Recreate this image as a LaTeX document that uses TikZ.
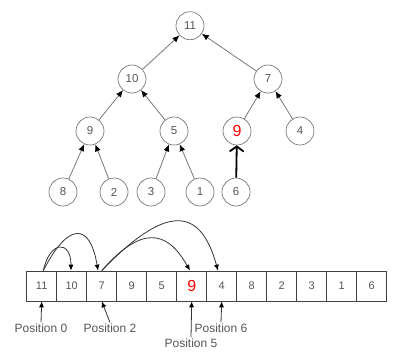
\documentclass[tikz,border=0pt]{standalone}
\usepackage{fontspec}
\setmainfont{Liberation Sans}
\usetikzlibrary{arrows.meta}
\definecolor{txt}{HTML}{555555}
\definecolor{edge}{HTML}{777777}
\begin{document}
\begin{tikzpicture}[x=1pt,y=-1pt,
  tnode/.style={circle,draw=edge,line width=0.7pt,minimum size=28pt,inner sep=0pt,font=\fontsize{11.5}{12}\selectfont,text=txt},
  redtxt/.style={text=red,font=\fontsize{16}{17}\selectfont},
  normtxt/.style={},
  cell/.style={rectangle,draw=black!75,line width=0.7pt,minimum width=30pt,minimum height=30pt,inner sep=0pt,font=\fontsize{11}{12}\selectfont,text=txt},
  tedge/.style={draw=edge,line width=0.8pt,-{Latex[length=7pt,width=6pt,color=black]}},
  aedge/.style={draw=black!80,line width=0.8pt,-{Latex[length=6pt,width=5pt,color=black]}},
  plabel/.style={font=\fontsize{12}{13}\selectfont,text=txt,inner sep=1pt}]
\useasboundingbox (0,0) rectangle (401,354);
% tree
\node[tnode] (t11) at (190,25.7) {11};
\node[tnode] (t10) at (132,79) {10};
\node[tnode] (t7) at (268,79) {7};
\node[tnode] (t9) at (90,131) {9};
\node[tnode] (t5) at (174,131) {5};
\node[tnode,redtxt] (r9) at (237,131) {9};
\node[tnode] (t4) at (300,131) {4};
\node[tnode] (t8) at (63,192) {8};
\node[tnode] (t2) at (114,192) {2};
\node[tnode] (t3) at (151,192) {3};
\node[tnode] (t1) at (200,192) {1};
\node[tnode] (t6) at (236,192) {6};
\draw[tedge] (t10) -- (t11);
\draw[tedge] (t7) -- (t11);
\draw[tedge] (t9) -- (t10);
\draw[tedge] (t5) -- (t10);
\draw[tedge] (r9) -- (t7);
\draw[tedge] (t4) -- (t7);
\draw[tedge] (t8) -- (t9);
\draw[tedge] (t2) -- (t9);
\draw[tedge] (t3) -- (t5);
\draw[tedge] (t1) -- (t5);
\draw[line width=1.8pt,-{Straight Barb[length=5pt,width=14pt]}] (t6) -- (r9);
% array
\foreach \v/\s [count=\i from 0] in {11/normtxt,10/normtxt,7/normtxt,9/normtxt,5/normtxt,9/redtxt,4/normtxt,8/normtxt,2/normtxt,3/normtxt,1/normtxt,6/normtxt} {
  \node[cell,\s] (c\i) at ({41.7+30*\i},286) {\v};
}
\draw[aedge] ([xshift=1.6pt]c0.north) .. controls (50,240) and (71,240) .. ([xshift=-0.7pt]c1.north);
\draw[aedge] ([xshift=1.6pt]c0.north) .. controls (68,222) and (90,222) .. ([xshift=-3.7pt]c2.north);
\draw[aedge] (c2.north) .. controls (140,227) and (166,228) .. ([xshift=-1.7pt]c5.north);
\draw[aedge] (c2.north) .. controls (165,205) and (200,205) .. ([xshift=-3.7pt]c6.north);
% position labels
\node[plabel] (p0) at (41,328) {Position 0};
\node[plabel] (p2) at (110,328) {Position 2};
\node[plabel] (p5) at (191,343) {Position 5};
\node[plabel] (p6) at (221,328) {Position 6};
\draw[aedge] (p0.north) -- (c0.south);
\draw[aedge] (p2.north) -- (c2.south);
\draw[aedge] (p5.north) -- (c5.south);
\draw[aedge] (p6.north) -- (c6.south);
\end{tikzpicture}
\end{document}
